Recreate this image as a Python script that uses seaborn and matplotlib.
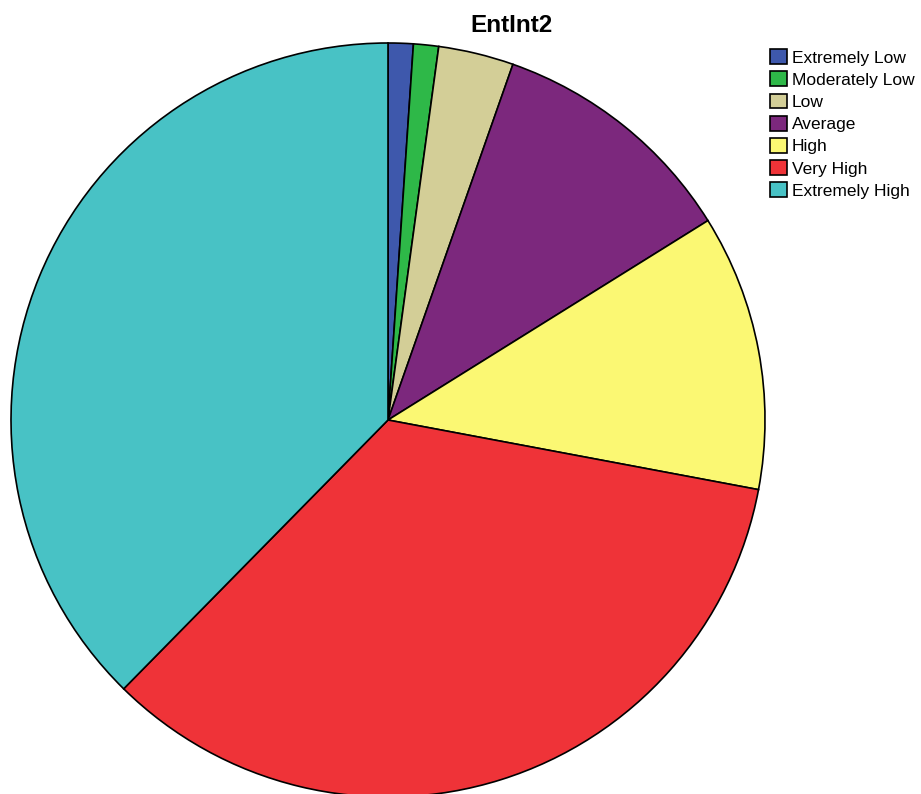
import numpy as np
import seaborn as sns
import matplotlib.pyplot as plt
from matplotlib.patches import Patch

# Data (counts)
categories = ['Extremely Low', 'Moderately Low', 'Low', 'Average',
              'High', 'Very High', 'Extremely High']
counts = [1, 1, 3, 10, 11, 32, 35]
colors = ['#3E58AC', '#2EB848', '#D3CE97', '#7C287D',
          '#FBF873', '#EF3338', '#48C2C5']

sns.set_theme(style='white')
plt.rcParams['font.family'] = ['Liberation Sans', 'DejaVu Sans']
plt.rcParams['text.color'] = 'black'

fig = plt.figure(figsize=(9.21, 7.94), dpi=100)
ax = fig.add_axes([11 / 921, -3 / 794, 754 / 921, 754 / 794])

ax.pie(counts, colors=colors, startangle=90, counterclock=False,
       wedgeprops={'edgecolor': 'black', 'linewidth': 1.2})
ax.set_xlim(-1, 1)
ax.set_ylim(-1, 1)
ax.set_aspect('equal')
ax.axis('off')

fig.text(511 / 921, 1 - 25 / 794, 'EntInt2', ha='center', va='center',
         fontsize=17.5, fontweight='bold', color='black')

handles = [Patch(facecolor=c, edgecolor='black', linewidth=1.2) for c in colors]
fig.legend(handles, categories, loc='upper left',
           bbox_to_anchor=(758 / 921, 1 - 37 / 794), frameon=False,
           fontsize=12.5, handlelength=0.95, handleheight=0.95,
           handletextpad=0.3, labelspacing=0.33, borderpad=0.2,
           labelcolor='black')

fig.savefig('out.png', dpi=100)
